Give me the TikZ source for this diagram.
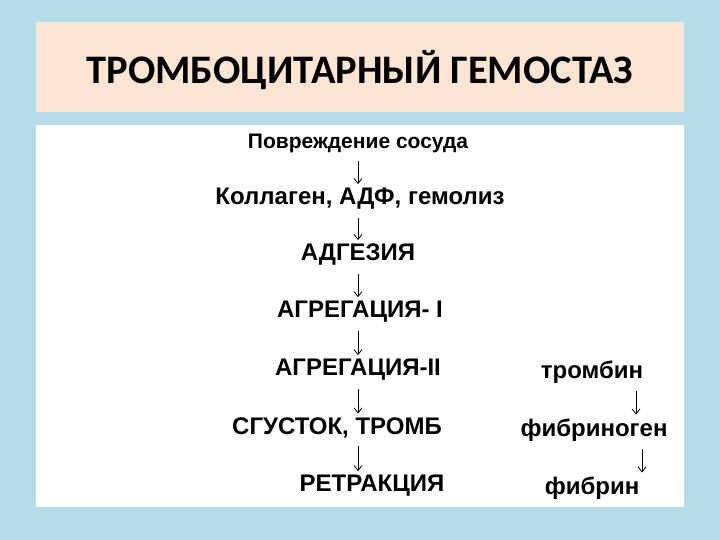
\documentclass[tikz,border=0pt]{standalone}
\usepackage{fontspec}
\setmainfont{Liberation Sans}
\newfontfamily\titlefont{Carlito}
\usetikzlibrary{arrows.meta}
\definecolor{skyback}{RGB}{180,221,231}
\definecolor{peach}{RGB}{253,229,211}

\begin{document}
\begin{tikzpicture}[x=1pt, y=-1pt,
    step text/.style={inner sep=1pt, font=\bfseries\fontsize{24}{27}\selectfont},
    arr/.style={-{Straight Barb[length=5pt,width=8pt]}, line width=0.8pt, shorten <=7pt, shorten >=3pt}]
            \fill [skyback] (0,0) rectangle (720,540);
            \fill [peach] (36,22) rectangle (684,112);
            \fill [white] (36,125) rectangle (684,507);
            \node [font=\titlefont\bfseries\fontsize{40.5}{45}\selectfont] (title) at (360,70) {ТРОМБОЦИТАРНЫЙ ГЕМОСТАЗ};
            % left column
            \node [inner sep=1pt, font=\bfseries\fontsize{21}{24}\selectfont] (povr) at (358,143) {Повреждение сосуда};
            \node [step text] (koll) at (360,199) {Коллаген, АДФ, гемолиз};
            \node [step text] (adg) at (358,255) {АДГЕЗИЯ};
            \node [step text] (agr1) at (360,312) {АГРЕГАЦИЯ- I};
            \node [step text] (agr2) at (358,370) {АГРЕГАЦИЯ-II};
            \node [step text] (sgust) at (337,428) {СГУСТОК, ТРОМБ};
            \node [step text] (retr) at (372,486) {РЕТРАКЦИЯ};
            % right column
            \node [step text] (tromb) at (592,372) {тромбин};
            \node [step text] (fibg) at (594,430) {фибриноген};
            \node [step text] (fibr) at (592,488) {фибрин};
            \coordinate (lx) at (358,0);
            \coordinate (rx1) at (636,0);
            \coordinate (rx2) at (642,0);
            \draw [arr] (povr.south -| lx) -- (koll.north -| lx);
            \draw [arr] (koll.south -| lx) -- (adg.north -| lx);
            \draw [arr] (adg.south -| lx) -- (agr1.north -| lx);
            \draw [arr] (agr1.south -| lx) -- (agr2.north -| lx);
            \draw [arr] (agr2.south -| lx) -- (sgust.north -| lx);
            \draw [arr] (sgust.south -| lx) -- (retr.north -| lx);
            \draw [arr] (tromb.south -| rx1) -- (fibg.north -| rx1);
            \draw [arr] (fibg.south -| rx2) -- (fibr.north -| rx2);
\end{tikzpicture}
\end{document}
